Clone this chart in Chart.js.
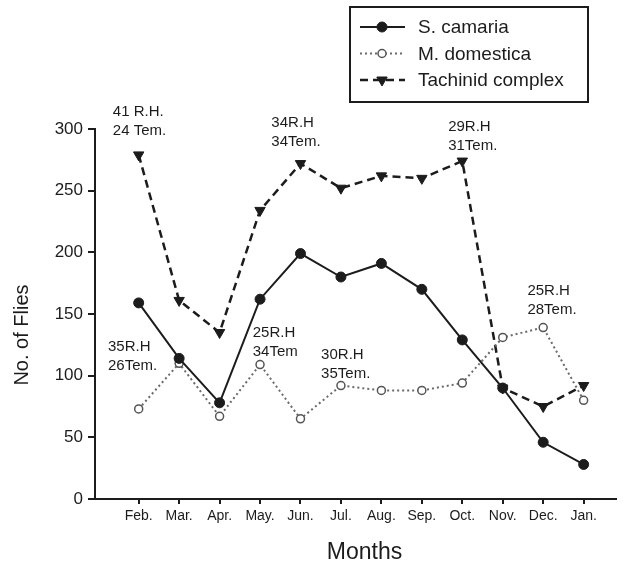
<!DOCTYPE html>
<html>
<head>
<meta charset="utf-8">
<script src="https://cdn.jsdelivr.net/npm/chart.js@4.4.1/dist/chart.umd.min.js"></script>
<style>
  html, body { margin: 0; padding: 0; background: #fff; }
  #wrap { width: 623px; height: 568px; }
</style>
</head>
<body>
<div id="wrap"><canvas id="fliesChart" width="623" height="568"></canvas></div>
<script>
const months = ['Feb.', 'Mar.', 'Apr.', 'May.', 'Jun.', 'Jul.', 'Aug.', 'Sep.', 'Oct.', 'Nov.', 'Dec.', 'Jan.'];

const sCamaria   = [159, 114, 78, 162, 199, 180, 191, 170, 129, 90, 46, 28];
const mDomestica = [73, 110, 67, 109, 65, 92, 88, 88, 94, 131, 139, 80];
const tachinid   = [279, 161, 135, 234, 272, 252, 262, 260, 274, 90, 75, 92];

const yTicks = [0, 50, 100, 150, 200, 250, 300];

// climate notes: text lines + anchor (month index, value) of the first line
const noteLines = [
    ['41 R.H.', '24 Tem.'],
    ['34R.H', '34Tem.'],
    ['29R.H', '31Tem.'],
    ['25R.H', '28Tem.'],
    ['35R.H', '26Tem.'],
    ['25R.H', '34Tem'],
    ['30R.H', '35Tem.']
];
const noteAt = [
    [-0.64, 314],
    [3.28, 305],
    [7.65, 302],
    [9.61, 169],
    [-0.76, 123],
    [2.82, 135],
    [4.51, 117]
];

const FONT = '"Liberation Sans", Arial, Helvetica, sans-serif';
const INK = '#1c1c1c';

const toXY = arr => arr.map((v, i) => ({ x: i, y: v }));

// draws legend box, climate notes and axis titles
const extras = {
    id: 'extras',
    afterDraw(chart) {
        const ctx = chart.ctx;
        const xs = chart.scales.x, ys = chart.scales.y;
        const area = chart.chartArea;

        ctx.save();
        ctx.fillStyle = INK;
        ctx.textBaseline = 'middle';

        // notes
        ctx.font = '15px ' + FONT;
        ctx.textAlign = 'left';
        noteLines.forEach((lines, i) => {
            const px = xs.getPixelForValue(noteAt[i][0]);
            const py = ys.getPixelForValue(noteAt[i][1]);
            lines.forEach((t, k) => ctx.fillText(t, px, py + k * 19));
        });

        // axis titles
        ctx.font = '23px ' + FONT;
        ctx.textAlign = 'center';
        ctx.fillText('Months', (area.left + area.right) / 2 + 9, 553);
        ctx.save();
        ctx.translate(22, (area.top + area.bottom) / 2 + 21);
        ctx.rotate(-Math.PI / 2);
        ctx.font = '20px ' + FONT;
        ctx.fillText('No. of Flies', 0, 0);
        ctx.restore();

        // legend
        ctx.strokeStyle = INK;
        ctx.lineWidth = 2;
        ctx.strokeRect(350, 7, 238, 95);
        ctx.font = '19px ' + FONT;
        ctx.textAlign = 'left';
        chart.data.datasets.forEach((ds, i) => {
            const y = 27 + i * 26.5;
            ctx.save();
            ctx.strokeStyle = ds.borderColor;
            ctx.lineWidth = ds.borderWidth;
            ctx.setLineDash(ds.borderDash || []);
            ctx.beginPath();
            ctx.moveTo(360, y);
            ctx.lineTo(405, y);
            ctx.stroke();
            ctx.restore();
            ctx.save();
            ctx.fillStyle = ds.pointBackgroundColor;
            ctx.strokeStyle = ds.pointBorderColor;
            ctx.lineWidth = ds.pointBorderWidth;
            Chart.helpers.drawPoint(ctx, {
                pointStyle: ds.pointStyle,
                rotation: ds.pointRotation || 0,
                radius: ds.pointRadius,
                borderWidth: ds.pointBorderWidth
            }, 382, y);
            ctx.restore();
            ctx.fillStyle = INK;
            ctx.fillText(ds.label, 418, y + 1);
        });
        ctx.restore();
    }
};

new Chart(document.getElementById('fliesChart'), {
    type: 'line',
    data: {
        datasets: [
            {
                label: 'S. camaria',
                data: toXY(sCamaria),
                borderColor: INK,
                borderWidth: 2,
                pointStyle: 'circle',
                pointRadius: 5,
                pointBackgroundColor: INK,
                pointBorderColor: INK,
                pointBorderWidth: 1,
                tension: 0
            },
            {
                label: 'M. domestica',
                data: toXY(mDomestica),
                borderColor: '#6a6a6a',
                borderWidth: 2,
                borderDash: [2, 3],
                pointStyle: 'circle',
                pointRadius: 4,
                pointBackgroundColor: '#ffffff',
                pointBorderColor: '#555555',
                pointBorderWidth: 1.5,
                tension: 0
            },
            {
                label: 'Tachinid complex',
                data: toXY(tachinid),
                borderColor: INK,
                borderWidth: 2.5,
                borderDash: [8, 5],
                pointStyle: 'triangle',
                pointRotation: 180,
                pointRadius: 6,
                pointBackgroundColor: INK,
                pointBorderColor: INK,
                pointBorderWidth: 1,
                tension: 0
            }
        ]
    },
    options: {
        responsive: false,
        animation: false,
        devicePixelRatio: 1,
        layout: { padding: { top: 129, right: 3, left: 0, bottom: 0 } },
        plugins: {
            legend: { display: false },
            tooltip: { enabled: false }
        },
        scales: {
            x: {
                type: 'linear',
                min: -1.08,
                max: 11.8,
                afterBuildTicks: s => { s.ticks = months.map((m, i) => ({ value: i })); },
                afterFit: s => { s.height = 69; },
                ticks: {
                    autoSkip: false,
                    maxRotation: 0,
                    padding: 4,
                    color: INK,
                    font: { family: FONT, size: 14 },
                    callback: v => months[v]
                },
                grid: { drawOnChartArea: false, drawTicks: true, tickLength: 5, color: INK, lineWidth: 2 },
                border: { display: true, color: INK, width: 2 }
            },
            y: {
                min: 0,
                max: 300,
                afterBuildTicks: s => { s.ticks = yTicks.map(v => ({ value: v })); },
                afterFit: s => { s.width = 95; },
                ticks: {
                    padding: 5,
                    color: INK,
                    font: { family: FONT, size: 17 }
                },
                grid: { drawOnChartArea: false, drawTicks: true, tickLength: 7, color: INK, lineWidth: 2 },
                border: { display: true, color: INK, width: 2 }
            }
        }
    },
    plugins: [extras]
});
</script>
</body>
</html>
